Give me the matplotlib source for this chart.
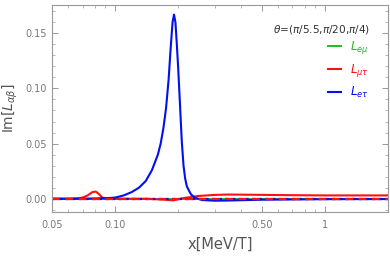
import matplotlib
matplotlib.use("Agg")
from matplotlib import pyplot as plt
from matplotlib.ticker import FixedLocator, FixedFormatter, MultipleLocator, NullFormatter

# Data
x_et = [0.05, 0.07, 0.09, 0.10, 0.11, 0.12, 0.13, 0.14, 0.15, 0.16, 0.165, 0.17, 0.175,
        0.18, 0.184, 0.188, 0.191, 0.194, 0.197, 0.20, 0.204, 0.208, 0.212, 0.216,
        0.22, 0.23, 0.24, 0.26, 0.30, 0.35, 0.5, 1.0, 2.0]
y_et = [0.0, 0.0, 0.0005, 0.001, 0.003, 0.006, 0.010, 0.016, 0.026, 0.040, 0.050, 0.064, 0.082,
        0.108, 0.136, 0.160, 0.167, 0.160, 0.140, 0.118, 0.085, 0.052, 0.030, 0.018,
        0.011, 0.004, 0.001, -0.0012, -0.0018, -0.0016, -0.0009, -0.0004, -0.0003]

x_mt = [0.05, 0.06, 0.065, 0.07, 0.074, 0.078, 0.081, 0.084, 0.087, 0.09, 0.10,
        0.14, 0.17, 0.19, 0.21, 0.25, 0.30, 0.35, 0.5, 0.7, 1.0, 1.5, 2.0]
y_mt = [0.0, 0.0, 0.0003, 0.001, 0.003, 0.006, 0.0065, 0.004, 0.001, 0.0, 0.0,
        0.0, -0.0008, -0.0015, 0.0005, 0.0025, 0.0035, 0.0038, 0.0035, 0.0032, 0.003, 0.003, 0.003]

x_em = [0.05, 0.2, 2.0]
y_em = [0.0, 0.0, 0.0]

x_zero = [0.05, 2.0]
y_zero = [0.0, 0.0]

title = r"$\theta$=($\pi$/5.5,$\pi$/20,$\pi$/4)"
grey = "#777777"

fig = plt.figure(figsize=(3.9, 2.56), dpi=100)
ax = fig.add_axes([0.133, 0.172, 0.862, 0.81])

ax.plot(x_em, y_em, color="#22bb22", lw=1.4, label=r"$L_{e\mu}$")
ax.plot(x_mt, y_mt, color="#ff1010", lw=1.5, label=r"$L_{\mu\tau}$")
ax.plot(x_et, y_et, color="#0010ee", lw=1.5, label=r"$L_{e\tau}$")
ax.plot(x_zero, [-0.0004, -0.0004], color="#0010ee", lw=1.6, ls=(0, (1.5, 1.5)))
ax.plot(x_zero, y_zero, color="#ff1010", lw=1.6, ls=(0, (3.5, 2.5)))

ax.set_xscale("log")
ax.set_xlim(0.05, 2.0)
ax.set_ylim(-0.012, 0.176)

ax.xaxis.set_major_locator(FixedLocator([0.05, 0.1, 0.5, 1]))
ax.xaxis.set_major_formatter(FixedFormatter(["0.05", "0.10", "0.50", "1"]))
ax.xaxis.set_minor_locator(FixedLocator([0.06, 0.07, 0.08, 0.09, 0.2, 0.3, 0.4,
                                         0.6, 0.7, 0.8, 0.9, 2.0]))
ax.xaxis.set_minor_formatter(NullFormatter())
ax.yaxis.set_major_locator(FixedLocator([0.0, 0.05, 0.10, 0.15]))
ax.yaxis.set_major_formatter(FixedFormatter(["0.00", "0.05", "0.10", "0.15"]))
ax.yaxis.set_minor_locator(MultipleLocator(0.01))

for s in ax.spines.values():
    s.set_color("#999999")
    s.set_linewidth(0.8)
ax.tick_params(which="both", direction="in", top=True, right=True, colors="#999999",
               labelcolor=grey, labelsize=7)
ax.tick_params(which="major", length=4, width=0.7)
ax.tick_params(which="minor", length=2, width=0.5)
ax.tick_params(axis="x", pad=6)

ax.set_xlabel("x[MeV/T]", fontsize=10.5, color="#555555", labelpad=5)
ax.set_ylabel(r"Im[$L_{\alpha\beta}$]", fontsize=10, color="#555555", labelpad=4)

ax.text(0.946, 0.878, title, transform=ax.transAxes, ha="right", va="center",
        fontsize=7.6, color="#333333")
leg = ax.legend(loc="upper right", bbox_to_anchor=(0.966, 0.872), frameon=False,
                fontsize=8.5, handlelength=1.1, handletextpad=0.7, labelspacing=0.5,
                borderpad=0.2, labelcolor="linecolor")

fig.savefig("out.png", dpi=100)
